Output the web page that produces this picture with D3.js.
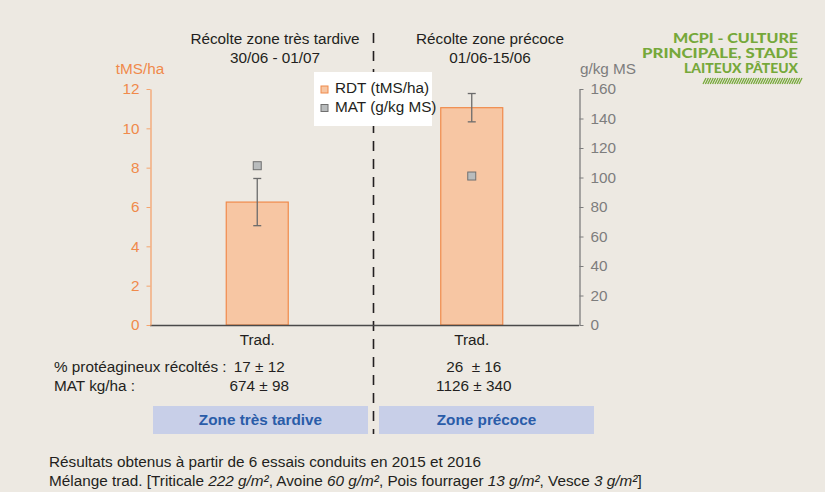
<!DOCTYPE html>
<html><head><meta charset="utf-8">
<script src="https://cdn.jsdelivr.net/npm/d3@7"></script>
<style>
html,body{margin:0;padding:0;background:#ede9e2;}
svg{display:block;font-family:"Liberation Sans",Arial,sans-serif;}
</style></head>
<body><svg id="c" width="825" height="492"></svg>
<script>
// ---- data ----
const zones = ["Zone très tardive", "Zone précoce"];
const xLabels = ["Trad.", "Trad."];
const titles1 = ["Récolte zone très tardive", "Récolte zone précoce"];
const titles2 = ["30/06 - 01/07", "01/06-15/06"];
const rdt = [6.25, 11.05];
const rdtErr = [1.2, 0.72];
const mat = [108, 101];
const proteag = ["17 ± 12", "26  ± 16"];
const matKg = ["674 ± 98", "1126 ± 340"];
const leftTicks = [0, 2, 4, 6, 8, 10, 12];
const rightTicks = [0, 20, 40, 60, 80, 100, 120, 140, 160];
const legendLabels = ["RDT (tMS/ha)", "MAT (g/kg MS)"];
const logoLines = ["MCPI - CULTURE", "PRINCIPALE, STADE", "LAITEUX PÂTEUX"];

const FS = 15.3;
const svg = d3.select("#c");
const orange = "#f08a4b", barFill = "#f7c6a3", gray = "#7d7d7d", dark = "#231f20";

const x = d3.scaleBand().domain(zones).range([150, 579]).paddingInner(0.711).paddingOuter(0.3555);
const yL = d3.scaleLinear().domain([0, 12]).range([325, 89]);
const yR = d3.scaleLinear().domain([0, 160]).range([325, 89]);

// dashed separator
svg.append("line").attr("x1", 373.5).attr("x2", 373.5).attr("y1", 33).attr("y2", 434)
  .attr("stroke", dark).attr("stroke-width", 1.6).attr("stroke-dasharray", "10,8");

// titles
const tcx = [275, 490];
zones.forEach((z, i) => {
  svg.append("text").attr("x", tcx[i]).attr("y", 44).attr("text-anchor", "middle")
    .attr("font-size", FS).attr("fill", dark).text(titles1[i]);
  svg.append("text").attr("x", tcx[i]).attr("y", 63).attr("text-anchor", "middle")
    .attr("font-size", FS).attr("fill", dark).text(titles2[i]);
});

// bars
svg.selectAll("rect.bar").data(rdt).join("rect").attr("class", "bar")
  .attr("x", (d, i) => x(zones[i])).attr("width", x.bandwidth())
  .attr("y", d => yL(d)).attr("height", d => yL(0) - yL(d))
  .attr("fill", barFill).attr("stroke", orange).attr("stroke-width", 1.2);

// error bars
const eg = svg.append("g").attr("stroke", "#6b6b6b").attr("stroke-width", 1.3);
rdt.forEach((d, i) => {
  const cx = x(zones[i]) + x.bandwidth() / 2;
  eg.append("line").attr("x1", cx).attr("x2", cx).attr("y1", yL(d + rdtErr[i])).attr("y2", yL(d - rdtErr[i]));
  eg.append("line").attr("x1", cx - 4).attr("x2", cx + 4).attr("y1", yL(d + rdtErr[i])).attr("y2", yL(d + rdtErr[i]));
  eg.append("line").attr("x1", cx - 4).attr("x2", cx + 4).attr("y1", yL(d - rdtErr[i])).attr("y2", yL(d - rdtErr[i]));
});

// MAT points
svg.selectAll("rect.mat").data(mat).join("rect").attr("class", "mat")
  .attr("x", (d, i) => x(zones[i]) + x.bandwidth() / 2 - 4).attr("y", d => yR(d) - 4)
  .attr("width", 8).attr("height", 8)
  .attr("fill", "#b9bcbd").attr("stroke", "#707070").attr("stroke-width", 1);

// x baseline
svg.append("line").attr("x1", 150).attr("x2", 579).attr("y1", 325.5).attr("y2", 325.5)
  .attr("stroke", "#4a4a4a").attr("stroke-width", 1.3);

// left axis
const gL = svg.append("g").attr("transform", "translate(150.5,0)")
  .call(d3.axisLeft(yL).tickValues(leftTicks).tickSize(4).tickSizeOuter(0).tickPadding(7));
gL.select(".domain").attr("stroke", "#f4a46e").attr("stroke-width", 1.3);
gL.selectAll(".tick line").attr("stroke", "#f4a46e");
gL.selectAll(".tick text").attr("fill", orange).attr("font-size", FS).attr("font-family", "Liberation Sans, Arial, sans-serif");
svg.append("text").attr("x", 140).attr("y", 74).attr("text-anchor", "middle")
  .attr("font-size", FS).attr("fill", orange).text("tMS/ha");

// right axis
const gR = svg.append("g").attr("transform", "translate(579.5,0)")
  .call(d3.axisRight(yR).tickValues(rightTicks).tickSize(4).tickSizeOuter(0).tickPadding(7));
gR.select(".domain").attr("stroke", gray).attr("stroke-width", 1.3);
gR.selectAll(".tick line").attr("stroke", gray);
gR.selectAll(".tick text").attr("fill", gray).attr("font-size", FS).attr("font-family", "Liberation Sans, Arial, sans-serif");
svg.append("text").attr("x", 608).attr("y", 74).attr("text-anchor", "middle")
  .attr("font-size", FS).attr("fill", gray).text("g/kg MS");

// x labels
xLabels.forEach((l, i) => {
  svg.append("text").attr("x", x(zones[i]) + x.bandwidth() / 2).attr("y", 345)
    .attr("text-anchor", "middle").attr("font-size", FS).attr("fill", dark).text(l);
});

// legend
svg.append("rect").attr("x", 314).attr("y", 72).attr("width", 118).attr("height", 54).attr("fill", "#ffffff");
const legFill = [barFill, "#b9bcbd"], legStroke = [orange, "#707070"];
legendLabels.forEach((l, i) => {
  svg.append("rect").attr("x", 321).attr("y", 86 + i * 18.5).attr("width", 7).attr("height", 7)
    .attr("fill", legFill[i]).attr("stroke", legStroke[i]).attr("stroke-width", 1);
  svg.append("text").attr("x", 335).attr("y", 93 + i * 18.5).attr("font-size", FS).attr("fill", dark).text(l);
});

// table rows
svg.append("text").attr("x", 54).attr("y", 372).attr("font-size", FS).attr("fill", dark).text("% protéagineux récoltés :");
svg.append("text").attr("x", 54).attr("y", 391).attr("font-size", FS).attr("fill", dark).text("MAT kg/ha :");
zones.forEach((z, i) => {
  const cx = x(z) + x.bandwidth() / 2 + 2;
  svg.append("text").attr("x", cx).attr("y", 372).attr("text-anchor", "middle").attr("font-size", FS)
    .attr("fill", dark).style("white-space", "pre").text(proteag[i]);
  svg.append("text").attr("x", cx).attr("y", 391).attr("text-anchor", "middle").attr("font-size", FS)
    .attr("fill", dark).text(matKg[i]);
});

// zone boxes
const boxX = [[153, 368], [379, 594]];
zones.forEach((z, i) => {
  svg.append("rect").attr("x", boxX[i][0]).attr("y", 406).attr("width", boxX[i][1] - boxX[i][0]).attr("height", 28)
    .attr("fill", "#c8cfe8");
  svg.append("text").attr("x", (boxX[i][0] + boxX[i][1]) / 2).attr("y", 425).attr("text-anchor", "middle")
    .attr("font-size", FS).attr("font-weight", "bold").attr("fill", "#2a5ca8").text(z);
});

// footnotes
svg.append("text").attr("x", 49).attr("y", 467).attr("font-size", FS).attr("fill", dark)
  .text("Résultats obtenus à partir de 6 essais conduits en 2015 et 2016");
const fn = svg.append("text").attr("x", 49).attr("y", 486).attr("font-size", FS).attr("fill", dark);
[["Mélange trad. [Triticale ", false], ["222 g/m²", true], [", Avoine ", false], ["60 g/m²", true],
 [", Pois fourrager ", false], ["13 g/m²", true], [", Vesce ", false], ["3 g/m²", true], ["]", false]]
  .forEach(([t, it]) => fn.append("tspan").attr("font-style", it ? "italic" : null).text(t));

// logo
const green = "#76a83a";
const logoW = [125, 156, 114];
logoLines.forEach((l, i) => {
  svg.append("text").attr("x", 798).attr("y", 43 + i * 15).attr("text-anchor", "end")
    .attr("font-family", "Lato, 'Open Sans', sans-serif").attr("font-weight", 900)
    .attr("font-size", 12.5).attr("fill", green)
    .attr("textLength", logoW[i]).attr("lengthAdjust", "spacingAndGlyphs").text(l);
});
const hatch = svg.append("g").attr("stroke", green).attr("stroke-width", 1.3);
d3.range(703, 801, 2.4).forEach(hx => {
  hatch.append("line").attr("x1", hx).attr("y1", 84).attr("x2", hx + 3).attr("y2", 78);
});
</script></body></html>
